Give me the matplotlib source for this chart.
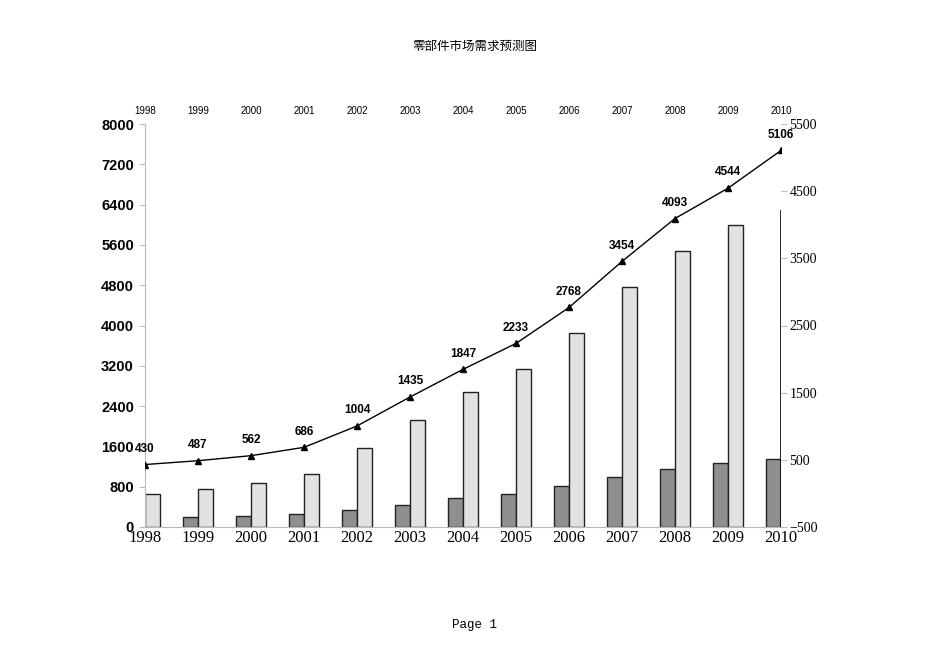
import matplotlib
matplotlib.use("Agg")
import matplotlib.pyplot as plt
import numpy as np

years = ["1998","1999","2000","2001","2002","2003","2004","2005","2006","2007","2008","2009","2010"]
dark_vals = [0, 190, 220, 250, 330, 440, 570, 660, 820, 1000, 1160, 1270, 1350]
light_vals = [660, 760, 880, 1060, 1560, 2120, 2680, 3140, 3860, 4760, 5480, 5990, 6300]
line_vals = [430, 487, 562, 686, 1004, 1435, 1847, 2233, 2768, 3454, 4093, 4544, 5106]
left_ticks = [0, 800, 1600, 2400, 3200, 4000, 4800, 5600, 6400, 7200, 8000]
right_ticks = [-500, 500, 1500, 2500, 3500, 4500, 5500]

fig = plt.figure(figsize=(9.5, 6.72), dpi=100)
ax = fig.add_axes([145/950, 1-527/672, 636/950, 403/672])
x = np.arange(len(years))
w = 0.29
n = len(years)
for i in range(n):
    if dark_vals[i] > 0:
        ax.bar(x[i] - w/2, dark_vals[i], w, color="#8f8f8f", edgecolor="#222222", linewidth=1, zorder=2)
    if i < n - 1:
        ax.bar(x[i] + w/2, light_vals[i], w, color="#e2e2e2", edgecolor="#222222", linewidth=1, zorder=2)
    else:
        ax.vlines(x[i], 0, light_vals[i], color="black", linewidth=1.2, zorder=2)

ax.set_xlim(0, n - 1)
ax.set_ylim(0, 8000)
ax.set_yticks(left_ticks)
ax.set_yticklabels([str(t) for t in left_ticks], fontsize=10.5, fontweight="bold", fontfamily="Liberation Sans")
ax.set_xticks(x)
ax.set_xticklabels(years, fontsize=12, fontfamily="Liberation Serif")
ax.tick_params(axis="x", length=0, pad=2)
ax.tick_params(axis="y", length=4, color="#bbbbbb", pad=4)
for s in ["top", "right"]:
    ax.spines[s].set_visible(False)
ax.spines["left"].set_color("#bbbbbb")
ax.spines["bottom"].set_color("#bbbbbb")

for i, yv in enumerate(years):
    ax.text(x[i], 1.02, yv, transform=ax.get_xaxis_transform(), ha="center", va="bottom",
            fontsize=7, fontfamily="Liberation Sans")

ax2 = ax.twinx()
ax2.set_ylim(-500, 5500)
ax2.set_yticks(right_ticks)
ax2.set_yticklabels([str(t).replace("-", "−") for t in right_ticks], fontsize=10, fontfamily="Liberation Serif")
ax2.tick_params(axis="y", length=4, color="#bbbbbb", pad=2)
for s in ["top", "left", "bottom", "right"]:
    ax2.spines[s].set_visible(False)
ax2.plot(x, line_vals, color="black", linewidth=1, marker="^", markersize=4, zorder=3)
for i, v in enumerate(line_vals):
    ax2.annotate(str(v), (x[i], v), xytext=(0, 7), textcoords="offset points", ha="center",
                 va="bottom", fontsize=8.5, fontweight="bold", fontfamily="Liberation Sans")

fig.text(0.5, 1 - 46/672, "零部件市场需求预测图", ha="center", va="center", fontsize=9,
         fontfamily=["Noto Sans CJK SC", "Noto Sans CJK JP", "Noto Sans CJK TC", "Noto Sans CJK KR"])
fig.text(0.5, 1 - 625/672, "Page 1", ha="center", va="center", fontsize=9, fontfamily="Liberation Mono")

fig.savefig("out.png", dpi=100)
